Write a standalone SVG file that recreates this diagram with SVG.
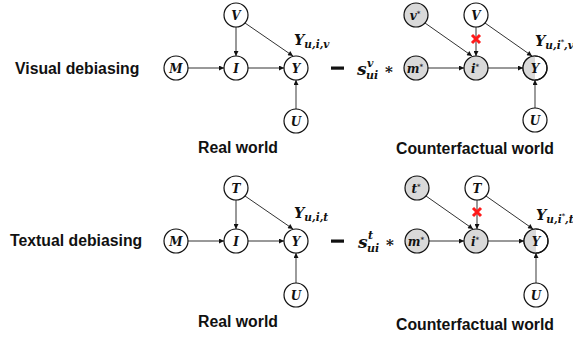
<svg xmlns="http://www.w3.org/2000/svg" width="573" height="341" viewBox="0 0 573 341">
<style>
.title{font-family:"Liberation Sans",Arial,sans-serif;font-weight:bold;font-size:15.8px;fill:#111}
.nd{fill:#fff;stroke:#111;stroke-width:1.2}
.gr{fill:#d9d9d9;stroke:#111;stroke-width:1.2}
.lb{font-family:"DejaVu Serif","Liberation Serif",serif;font-weight:bold;font-style:italic;font-size:12px;fill:#111;text-anchor:middle}
.math{font-family:"DejaVu Serif","Liberation Serif",serif;font-weight:bold;font-style:italic;fill:#111}
.e{stroke:#333;stroke-width:1;fill:none;marker-end:url(#ah)}
.eu{stroke:#666;stroke-width:1.3;fill:none;marker-end:url(#ah)}
.x{stroke:#ff1a1a;stroke-width:3;stroke-linecap:butt}
</style>
<defs>
<marker id="ah" viewBox="0 0 10 10" refX="10" refY="5" markerWidth="6" markerHeight="5" markerUnits="userSpaceOnUse" orient="auto">
<path d="M0,0 L10,5 L0,10 z" fill="#111"/>
</marker>
</defs>

<!-- Row 1: Visual debiasing -->
<g id="row1">
<text class="title" x="15" y="74">Visual debiasing</text>
<g id="connectors1">
<line class="e" x1="188" y1="68" x2="224" y2="68"/>
<line class="e" x1="248" y1="68" x2="284" y2="68"/>
<line class="e" x1="236" y1="27" x2="236" y2="56"/>
<line class="e" x1="245" y1="23" x2="293" y2="56"/>
<line class="eu" x1="296" y1="109" x2="296" y2="80"/>
<line class="e" x1="425" y1="23" x2="472" y2="56"/>
<line class="e" x1="428" y1="68" x2="464" y2="68"/>
<line class="e" x1="488" y1="68" x2="523" y2="68"/>
<line class="e" x1="476" y1="27" x2="476" y2="56"/>
<line class="e" x1="485" y1="23" x2="532" y2="56"/>
<line class="eu" x1="535" y1="108" x2="535" y2="80"/>
<path class="x" d="M472,35 L480,43 M480,35 L472,43"/>
</g>
<g id="r1-M"><circle class="nd" cx="176" cy="68" r="12"/><text class="lb" x="176" y="72.5">M</text></g>
<g id="r1-V"><circle class="nd" cx="236" cy="15" r="12"/><text class="lb" x="236" y="19.5">V</text></g>
<g id="r1-I"><circle class="nd" cx="236" cy="68" r="12"/><text class="lb" x="236" y="72.5">I</text></g>
<g id="r1-Y"><circle class="nd" cx="296" cy="68" r="12"/><text class="lb" x="296" y="72.5">Y</text></g>
<g id="r1-U"><circle class="nd" cx="296" cy="121" r="12"/><text class="lb" x="296" y="125.5">U</text></g>
<text class="math" x="294" y="45" font-size="14.5">Y<tspan font-size="10.5" dy="3">u,i,v</tspan></text>
<rect x="331" y="66.5" width="13" height="3.2" fill="#111"/>
<text class="math" x="357" y="75" font-size="17">s</text>
<text class="math" x="367" y="67" font-size="11">v</text>
<text class="math" x="366" y="79" font-size="11">ui</text>
<text class="math" x="385" y="77" font-size="15" font-style="normal">*</text>
<g id="r1-vs"><circle class="gr" cx="416" cy="15" r="12"/><text class="lb" x="415" y="19.5">v<tspan font-size="7" dy="-4">*</tspan></text></g>
<g id="r1-V2"><circle class="nd" cx="476" cy="15" r="12"/><text class="lb" x="476" y="19.5">V</text></g>
<g id="r1-ms"><circle class="gr" cx="416" cy="68" r="12"/><text class="lb" x="415" y="72.5">m<tspan font-size="7" dy="-4">*</tspan></text></g>
<g id="r1-is"><circle class="gr" cx="476" cy="68" r="12"/><text class="lb" x="475" y="72.5">i<tspan font-size="7" dy="-4">*</tspan></text></g>
<g id="r1-Y2"><circle class="nd" cx="535" cy="68" r="12"/><path d="M535,56 A12,12 0 0 0 535,80 Z" fill="#d9d9d9"/><circle cx="535" cy="68" r="12" fill="none" stroke="#111" stroke-width="1.2"/><text class="lb" x="535" y="72.5">Y</text></g>
<g id="r1-U2"><circle class="nd" cx="535" cy="120" r="12"/><text class="lb" x="535" y="124.5">U</text></g>
<text class="math" x="535" y="46" font-size="14.5">Y<tspan font-size="10.5" dy="3">u,i</tspan><tspan font-size="6.5" dy="-5">*</tspan><tspan font-size="10.5" dy="5">,v</tspan></text>
<text class="title" x="238" y="153" text-anchor="middle">Real world</text>
<text class="title" x="475" y="154" text-anchor="middle">Counterfactual world</text>
</g>

<!-- Row 2: Textual debiasing -->
<g id="row2">
<text class="title" x="10" y="246">Textual debiasing</text>
<g id="connectors2" transform="translate(0,173)">
<line class="e" x1="188" y1="68" x2="224" y2="68"/>
<line class="e" x1="248" y1="68" x2="284" y2="68"/>
<line class="e" x1="236" y1="27" x2="236" y2="56"/>
<line class="e" x1="245" y1="23" x2="293" y2="56"/>
<line class="eu" x1="296" y1="110" x2="296" y2="80"/>
<line class="e" x1="426" y1="23" x2="473" y2="56"/>
<line class="e" x1="429" y1="68" x2="464" y2="68"/>
<line class="e" x1="488" y1="68" x2="524" y2="68"/>
<line class="e" x1="477" y1="27" x2="477" y2="56"/>
<line class="e" x1="486" y1="23" x2="533" y2="56"/>
<line class="eu" x1="536" y1="110" x2="536" y2="80"/>
<path class="x" d="M473,35 L481,43 M481,35 L473,43"/>
</g>
<g transform="translate(0,173)">
<g id="r2-M"><circle class="nd" cx="176" cy="68" r="12"/><text class="lb" x="176" y="72.5">M</text></g>
<g id="r2-T"><circle class="nd" cx="236" cy="15" r="12"/><text class="lb" x="236" y="19.5">T</text></g>
<g id="r2-I"><circle class="nd" cx="236" cy="68" r="12"/><text class="lb" x="236" y="72.5">I</text></g>
<g id="r2-Y"><circle class="nd" cx="296" cy="68" r="12"/><text class="lb" x="296" y="72.5">Y</text></g>
<g id="r2-U"><circle class="nd" cx="296" cy="122" r="12"/><text class="lb" x="296" y="126.5">U</text></g>
<text class="math" x="294" y="45" font-size="14.5">Y<tspan font-size="10.5" dy="3">u,i,t</tspan></text>
<rect x="331" y="66.5" width="13" height="3.2" fill="#111"/>
<text class="math" x="358" y="75" font-size="17">s</text>
<text class="math" x="368" y="66" font-size="11">t</text>
<text class="math" x="367" y="79" font-size="11">ui</text>
<text class="math" x="386" y="77" font-size="15" font-style="normal">*</text>
<g id="r2-ts"><circle class="gr" cx="417" cy="15" r="12"/><text class="lb" x="416" y="19.5">t<tspan font-size="7" dy="-4">*</tspan></text></g>
<g id="r2-T2"><circle class="nd" cx="477" cy="15" r="12"/><text class="lb" x="477" y="19.5">T</text></g>
<g id="r2-ms"><circle class="gr" cx="417" cy="68" r="12"/><text class="lb" x="416" y="72.5">m<tspan font-size="7" dy="-4">*</tspan></text></g>
<g id="r2-is"><circle class="gr" cx="476" cy="68" r="12"/><text class="lb" x="475" y="72.5">i<tspan font-size="7" dy="-4">*</tspan></text></g>
<g id="r2-Y2"><circle class="nd" cx="536" cy="68" r="12"/><path d="M536,56 A12,12 0 0 0 536,80 Z" fill="#d9d9d9"/><circle cx="536" cy="68" r="12" fill="none" stroke="#111" stroke-width="1.2"/><text class="lb" x="536" y="72.5">Y</text></g>
<g id="r2-U2"><circle class="nd" cx="536" cy="122" r="12"/><text class="lb" x="536" y="126.5">U</text></g>
<text class="math" x="536" y="47" font-size="14.5">Y<tspan font-size="10.5" dy="3">u,i</tspan><tspan font-size="6.5" dy="-5">*</tspan><tspan font-size="10.5" dy="5">,t</tspan></text>
</g>
<text class="title" x="238" y="327" text-anchor="middle">Real world</text>
<text class="title" x="475" y="330" text-anchor="middle">Counterfactual world</text>
</g>
</svg>
